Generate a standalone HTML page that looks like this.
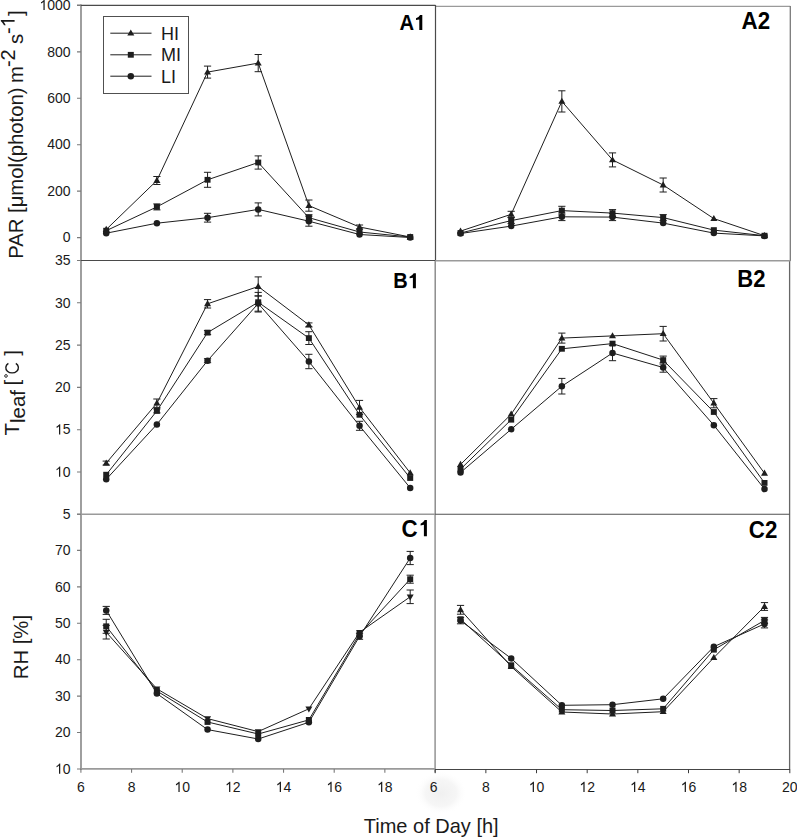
<!DOCTYPE html>
<html><head><meta charset="utf-8"><style>
html,body{margin:0;padding:0;background:#fff;}
body{width:797px;height:837px;overflow:hidden;font-family:"Liberation Sans",sans-serif;}
svg{display:block;}
</style></head><body>
<svg width="797" height="837" viewBox="0 0 797 837">
<rect width="797" height="837" fill="#fff"/>
<defs><radialGradient id="sm"><stop offset="0" stop-color="#f0f0f0"/><stop offset="0.6" stop-color="#f6f6f6"/><stop offset="1" stop-color="#fff" stop-opacity="0"/></radialGradient></defs>
<ellipse cx="441" cy="793" rx="26" ry="22" fill="url(#sm)"/>
<path d="M81 4.6V770" stroke="#8e8e8e" stroke-width="1.7" fill="none"/>
<path d="M77 5.3H435.5" stroke="#4a4a4a" stroke-width="1.2" fill="none"/>
<path d="M435.5 6.4H790.3" stroke="#9a9a9a" stroke-width="1.4" fill="none"/>
<path d="M435.5 5V260.5" stroke="#4a4a4a" stroke-width="1.2" fill="none"/>
<path d="M435.2 260.5V514.3" stroke="#858585" stroke-width="1.4" fill="none"/>
<path d="M435.1 514.3V772.6" stroke="#9a9a9a" stroke-width="1.6" fill="none"/>
<path d="M790.3 6V261" stroke="#7a7a7a" stroke-width="1.3" fill="none"/>
<path d="M789.6 261V770" stroke="#666" stroke-width="1.3" fill="none"/>
<path d="M77 260.5H435.5" stroke="#4a4a4a" stroke-width="1.2" fill="none"/>
<path d="M435.5 260.8H790.3" stroke="#9a9a9a" stroke-width="1.6" fill="none"/>
<path d="M77 514.3H435" stroke="#9a9a9a" stroke-width="1.5" fill="none"/>
<path d="M435 514.3H789.6" stroke="#505050" stroke-width="1.1" fill="none"/>
<path d="M80.2 768.9H435" stroke="#9a9a9a" stroke-width="1.7" fill="none"/>
<path d="M435 769.5H790" stroke="#454545" stroke-width="1.1" fill="none"/>
<path d="M77 237.60H81 M77 191.16H81 M77 144.72H81 M77 98.28H81 M77 51.84H81 M77 5.40H81 M77 514.30H81 M77 472.00H81 M77 429.70H81 M77 387.40H81 M77 345.10H81 M77 302.80H81 M77 260.50H81 M77 769.00H81 M77 732.57H81 M77 696.14H81 M77 659.71H81 M77 623.28H81 M77 586.85H81 M77 550.42H81 M80.90 769V772.8 M131.56 769V772.8 M182.22 769V772.8 M232.88 769V772.8 M283.54 769V772.8 M334.20 769V772.8 M384.86 769V772.8" stroke="#7a7a7a" stroke-width="1.1" fill="none"/>
<path d="M435.20 769.5V773.2 M485.86 769.5V773.2 M536.52 769.5V773.2 M587.18 769.5V773.2 M637.84 769.5V773.2 M688.50 769.5V773.2 M739.16 769.5V773.2 M789.82 769.5V773.2" stroke="#3a3a3a" stroke-width="1" fill="none"/>
<g font-family="Liberation Sans, sans-serif" font-size="14" fill="#1a1a1a"><text transform="translate(70.60 242.30) scale(1 1.055)" text-anchor="end">0</text><text transform="translate(70.60 195.86) scale(1 1.055)" text-anchor="end">200</text><text transform="translate(70.60 149.42) scale(1 1.055)" text-anchor="end">400</text><text transform="translate(70.60 102.98) scale(1 1.055)" text-anchor="end">600</text><text transform="translate(70.60 56.54) scale(1 1.055)" text-anchor="end">800</text><text transform="translate(70.60 10.10) scale(1 1.055)" text-anchor="end"> 000</text><text transform="translate(70.60 519.00) scale(1 1.055)" text-anchor="end">5</text><text transform="translate(70.60 476.70) scale(1 1.055)" text-anchor="end"> 0</text><text transform="translate(70.60 434.40) scale(1 1.055)" text-anchor="end"> 5</text><text transform="translate(70.60 392.10) scale(1 1.055)" text-anchor="end">20</text><text transform="translate(70.60 349.80) scale(1 1.055)" text-anchor="end">25</text><text transform="translate(70.60 307.50) scale(1 1.055)" text-anchor="end">30</text><text transform="translate(70.60 265.20) scale(1 1.055)" text-anchor="end">35</text><text transform="translate(70.60 773.70) scale(1 1.055)" text-anchor="end"> 0</text><text transform="translate(70.60 737.27) scale(1 1.055)" text-anchor="end">20</text><text transform="translate(70.60 700.84) scale(1 1.055)" text-anchor="end">30</text><text transform="translate(70.60 664.41) scale(1 1.055)" text-anchor="end">40</text><text transform="translate(70.60 627.98) scale(1 1.055)" text-anchor="end">50</text><text transform="translate(70.60 591.55) scale(1 1.055)" text-anchor="end">60</text><text transform="translate(70.60 555.12) scale(1 1.055)" text-anchor="end">70</text><text transform="translate(80.90 791.90) scale(1 1.055)" text-anchor="middle">6</text><text transform="translate(131.56 791.90) scale(1 1.055)" text-anchor="middle">8</text><text transform="translate(182.22 791.90) scale(1 1.055)" text-anchor="middle"> 0</text><text transform="translate(232.88 791.90) scale(1 1.055)" text-anchor="middle"> 2</text><text transform="translate(283.54 791.90) scale(1 1.055)" text-anchor="middle"> 4</text><text transform="translate(334.20 791.90) scale(1 1.055)" text-anchor="middle"> 6</text><text transform="translate(384.86 791.90) scale(1 1.055)" text-anchor="middle"> 8</text><text transform="translate(433.70 791.90) scale(1 1.055)" text-anchor="middle">6</text><text transform="translate(485.86 791.90) scale(1 1.055)" text-anchor="middle">8</text><text transform="translate(536.52 791.90) scale(1 1.055)" text-anchor="middle"> 0</text><text transform="translate(587.18 791.90) scale(1 1.055)" text-anchor="middle"> 2</text><text transform="translate(637.84 791.90) scale(1 1.055)" text-anchor="middle"> 4</text><text transform="translate(688.50 791.90) scale(1 1.055)" text-anchor="middle"> 6</text><text transform="translate(739.16 791.90) scale(1 1.055)" text-anchor="middle"> 8</text><text transform="translate(789.82 791.90) scale(1 1.055)" text-anchor="middle">20</text></g>
<g fill="#1a1a1a"><path transform="translate(39.46 10.10) scale(0.00684 -0.00721)" d="M763 0L583 0L583 1127Q518 1065 412 1003Q306 941 222 910L222 1084Q373 1155 486 1256Q599 1357 646 1409L763 1409Z"/><path transform="translate(55.03 476.70) scale(0.00684 -0.00721)" d="M763 0L583 0L583 1127Q518 1065 412 1003Q306 941 222 910L222 1084Q373 1155 486 1256Q599 1357 646 1409L763 1409Z"/><path transform="translate(55.03 434.40) scale(0.00684 -0.00721)" d="M763 0L583 0L583 1127Q518 1065 412 1003Q306 941 222 910L222 1084Q373 1155 486 1256Q599 1357 646 1409L763 1409Z"/><path transform="translate(55.03 773.70) scale(0.00684 -0.00721)" d="M763 0L583 0L583 1127Q518 1065 412 1003Q306 941 222 910L222 1084Q373 1155 486 1256Q599 1357 646 1409L763 1409Z"/><path transform="translate(174.43 791.90) scale(0.00684 -0.00721)" d="M763 0L583 0L583 1127Q518 1065 412 1003Q306 941 222 910L222 1084Q373 1155 486 1256Q599 1357 646 1409L763 1409Z"/><path transform="translate(225.09 791.90) scale(0.00684 -0.00721)" d="M763 0L583 0L583 1127Q518 1065 412 1003Q306 941 222 910L222 1084Q373 1155 486 1256Q599 1357 646 1409L763 1409Z"/><path transform="translate(275.75 791.90) scale(0.00684 -0.00721)" d="M763 0L583 0L583 1127Q518 1065 412 1003Q306 941 222 910L222 1084Q373 1155 486 1256Q599 1357 646 1409L763 1409Z"/><path transform="translate(326.41 791.90) scale(0.00684 -0.00721)" d="M763 0L583 0L583 1127Q518 1065 412 1003Q306 941 222 910L222 1084Q373 1155 486 1256Q599 1357 646 1409L763 1409Z"/><path transform="translate(377.07 791.90) scale(0.00684 -0.00721)" d="M763 0L583 0L583 1127Q518 1065 412 1003Q306 941 222 910L222 1084Q373 1155 486 1256Q599 1357 646 1409L763 1409Z"/><path transform="translate(528.73 791.90) scale(0.00684 -0.00721)" d="M763 0L583 0L583 1127Q518 1065 412 1003Q306 941 222 910L222 1084Q373 1155 486 1256Q599 1357 646 1409L763 1409Z"/><path transform="translate(579.39 791.90) scale(0.00684 -0.00721)" d="M763 0L583 0L583 1127Q518 1065 412 1003Q306 941 222 910L222 1084Q373 1155 486 1256Q599 1357 646 1409L763 1409Z"/><path transform="translate(630.05 791.90) scale(0.00684 -0.00721)" d="M763 0L583 0L583 1127Q518 1065 412 1003Q306 941 222 910L222 1084Q373 1155 486 1256Q599 1357 646 1409L763 1409Z"/><path transform="translate(680.71 791.90) scale(0.00684 -0.00721)" d="M763 0L583 0L583 1127Q518 1065 412 1003Q306 941 222 910L222 1084Q373 1155 486 1256Q599 1357 646 1409L763 1409Z"/><path transform="translate(731.37 791.90) scale(0.00684 -0.00721)" d="M763 0L583 0L583 1127Q518 1065 412 1003Q306 941 222 910L222 1084Q373 1155 486 1256Q599 1357 646 1409L763 1409Z"/></g>
<g fill="none" stroke="#1e1e1e" stroke-width="1"><polyline points="106.23,229.50 156.89,180.50 207.55,72.10 258.21,63.10 308.87,205.60 359.53,227.00 410.19,237.00"/><polyline points="106.23,230.70 156.89,206.90 207.55,179.80 258.21,162.50 308.87,217.70 359.53,232.00 410.19,237.00"/><polyline points="106.23,233.20 156.89,223.20 207.55,217.70 258.21,209.40 308.87,221.20 359.53,234.50 410.19,237.50"/><polyline points="460.53,231.10 511.19,214.30 561.85,101.40 612.51,159.90 663.17,185.00 713.83,218.60 764.49,235.70"/><polyline points="460.53,233.00 511.19,220.60 561.85,210.60 612.51,213.10 663.17,217.60 713.83,230.10 764.49,235.70"/><polyline points="460.53,233.50 511.19,226.10 561.85,216.80 612.51,217.10 663.17,223.10 713.83,233.10 764.49,235.90"/><polyline points="106.23,463.10 156.89,403.20 207.55,303.80 258.21,286.50 308.87,324.90 359.53,407.40 410.19,472.90"/><polyline points="106.23,474.70 156.89,410.90 207.55,332.60 258.21,302.20 308.87,338.10 359.53,414.80 410.19,478.00"/><polyline points="106.23,479.30 156.89,424.40 207.55,360.70 258.21,303.50 308.87,361.50 359.53,425.80 410.19,487.90"/><polyline points="460.53,464.50 511.19,414.20 561.85,338.10 612.51,335.90 663.17,333.70 713.83,403.20 764.49,473.30"/><polyline points="460.53,469.20 511.19,419.70 561.85,348.80 612.51,343.60 663.17,360.10 713.83,412.00 764.49,482.90"/><polyline points="460.53,472.50 511.19,429.30 561.85,386.20 612.51,353.00 663.17,367.50 713.83,425.20 764.49,489.00"/><polyline points="106.23,632.20 156.89,688.80 207.55,718.60 258.21,731.60 308.87,708.80 359.53,632.30 410.19,596.80"/><polyline points="106.23,626.30 156.89,691.00 207.55,722.00 258.21,734.00 308.87,719.90 359.53,634.20 410.19,579.20"/><polyline points="106.23,610.40 156.89,693.60 207.55,729.60 258.21,739.00 308.87,722.30 359.53,636.30 410.19,558.00"/><polyline points="460.53,609.80 511.19,666.60 561.85,712.00 612.51,714.00 663.17,711.70 713.83,657.60 764.49,606.50"/><polyline points="460.53,619.20 511.19,665.20 561.85,709.70 612.51,710.50 663.17,708.80 713.83,649.70 764.49,620.40"/><polyline points="460.53,620.60 511.19,658.40 561.85,705.30 612.51,704.70 663.17,698.80 713.83,646.70 764.49,623.90"/></g>
<path d="M156.89 176.50V184.50M153.29 176.50H160.49M153.29 184.50H160.49 M207.55 66.10V78.10M203.95 66.10H211.15M203.95 78.10H211.15 M258.21 54.50V71.70M254.61 54.50H261.81M254.61 71.70H261.81 M308.87 200.00V211.20M305.27 200.00H312.47M305.27 211.20H312.47 M359.53 225.00V229.00M355.93 225.00H363.13M355.93 229.00H363.13 M156.89 203.90V209.90M153.29 203.90H160.49M153.29 209.90H160.49 M207.55 172.30V187.30M203.95 172.30H211.15M203.95 187.30H211.15 M258.21 155.90V169.10M254.61 155.90H261.81M254.61 169.10H261.81 M308.87 214.70V220.70M305.27 214.70H312.47M305.27 220.70H312.47 M207.55 213.30V222.10M203.95 213.30H211.15M203.95 222.10H211.15 M258.21 202.90V215.90M254.61 202.90H261.81M254.61 215.90H261.81 M308.87 216.20V226.20M305.27 216.20H312.47M305.27 226.20H312.47 M511.19 211.30V217.30M507.59 211.30H514.79M507.59 217.30H514.79 M561.85 90.80V112.00M558.25 90.80H565.45M558.25 112.00H565.45 M612.51 152.90V166.90M608.91 152.90H616.11M608.91 166.90H616.11 M663.17 178.00V192.00M659.57 178.00H666.77M659.57 192.00H666.77 M511.19 217.60V223.60M507.59 217.60H514.79M507.59 223.60H514.79 M561.85 206.30V214.90M558.25 206.30H565.45M558.25 214.90H565.45 M612.51 209.60V216.60M608.91 209.60H616.11M608.91 216.60H616.11 M663.17 214.60V220.60M659.57 214.60H666.77M659.57 220.60H666.77 M561.85 213.00V220.60M558.25 213.00H565.45M558.25 220.60H565.45 M612.51 213.60V220.60M608.91 213.60H616.11M608.91 220.60H616.11 M106.23 461.10V465.10M102.63 461.10H109.83M102.63 465.10H109.83 M156.89 399.00V407.40M153.29 399.00H160.49M153.29 407.40H160.49 M207.55 299.60V308.00M203.95 299.60H211.15M203.95 308.00H211.15 M258.21 276.90V296.10M254.61 276.90H261.81M254.61 296.10H261.81 M308.87 322.90V326.90M305.27 322.90H312.47M305.27 326.90H312.47 M359.53 400.40V414.40M355.93 400.40H363.13M355.93 414.40H363.13 M156.89 408.90V412.90M153.29 408.90H160.49M153.29 412.90H160.49 M207.55 330.60V334.60M203.95 330.60H211.15M203.95 334.60H211.15 M258.21 292.40V312.00M254.61 292.40H261.81M254.61 312.00H261.81 M308.87 331.70V344.50M305.27 331.70H312.47M305.27 344.50H312.47 M207.55 358.70V362.70M203.95 358.70H211.15M203.95 362.70H211.15 M258.21 295.80V311.20M254.61 295.80H261.81M254.61 311.20H261.81 M308.87 354.30V368.70M305.27 354.30H312.47M305.27 368.70H312.47 M359.53 421.30V430.30M355.93 421.30H363.13M355.93 430.30H363.13 M561.85 333.10V343.10M558.25 333.10H565.45M558.25 343.10H565.45 M663.17 326.40V341.00M659.57 326.40H666.77M659.57 341.00H666.77 M713.83 398.60V407.80M710.23 398.60H717.43M710.23 407.80H717.43 M663.17 356.10V364.10M659.57 356.10H666.77M659.57 364.10H666.77 M561.85 378.40V394.00M558.25 378.40H565.45M558.25 394.00H565.45 M612.51 345.30V360.70M608.91 345.30H616.11M608.91 360.70H616.11 M663.17 362.80V372.20M659.57 362.80H666.77M659.57 372.20H666.77 M106.23 625.40V639.00M102.63 625.40H109.83M102.63 639.00H109.83 M410.19 590.00V603.60M406.59 590.00H413.79M406.59 603.60H413.79 M106.23 619.30V633.30M102.63 619.30H109.83M102.63 633.30H109.83 M410.19 575.20V583.20M406.59 575.20H413.79M406.59 583.20H413.79 M106.23 606.40V614.40M102.63 606.40H109.83M102.63 614.40H109.83 M359.53 633.30V639.30M355.93 633.30H363.13M355.93 639.30H363.13 M410.19 551.40V564.60M406.59 551.40H413.79M406.59 564.60H413.79 M460.53 605.40V614.20M456.93 605.40H464.13M456.93 614.20H464.13 M764.49 602.60V610.40M760.89 602.60H768.09M760.89 610.40H768.09 M764.49 617.40V623.40M760.89 617.40H768.09M760.89 623.40H768.09 M460.53 617.40V623.80M456.93 617.40H464.13M456.93 623.80H464.13 M764.49 619.90V627.90M760.89 619.90H768.09M760.89 627.90H768.09" fill="none" stroke="#1e1e1e" stroke-width="1"/>
<g fill="#1e1e1e"><path d="M106.23 225.80L109.73 231.90L102.73 231.90Z"/><path d="M156.89 176.80L160.39 182.90L153.39 182.90Z"/><path d="M207.55 68.40L211.05 74.50L204.05 74.50Z"/><path d="M258.21 59.40L261.71 65.50L254.71 65.50Z"/><path d="M308.87 201.90L312.37 208.00L305.37 208.00Z"/><path d="M359.53 223.30L363.03 229.40L356.03 229.40Z"/><path d="M410.19 233.30L413.69 239.40L406.69 239.40Z"/><rect x="103.23" y="227.80" width="6" height="5.8"/><rect x="153.89" y="204.00" width="6" height="5.8"/><rect x="204.55" y="176.90" width="6" height="5.8"/><rect x="255.21" y="159.60" width="6" height="5.8"/><rect x="305.87" y="214.80" width="6" height="5.8"/><rect x="356.53" y="229.10" width="6" height="5.8"/><rect x="407.19" y="234.10" width="6" height="5.8"/><circle cx="106.23" cy="233.20" r="3.25"/><circle cx="156.89" cy="223.20" r="3.25"/><circle cx="207.55" cy="217.70" r="3.25"/><circle cx="258.21" cy="209.40" r="3.25"/><circle cx="308.87" cy="221.20" r="3.25"/><circle cx="359.53" cy="234.50" r="3.25"/><circle cx="410.19" cy="237.50" r="3.25"/><path d="M460.53 227.40L464.03 233.50L457.03 233.50Z"/><path d="M511.19 210.60L514.69 216.70L507.69 216.70Z"/><path d="M561.85 97.70L565.35 103.80L558.35 103.80Z"/><path d="M612.51 156.20L616.01 162.30L609.01 162.30Z"/><path d="M663.17 181.30L666.67 187.40L659.67 187.40Z"/><path d="M713.83 214.90L717.33 221.00L710.33 221.00Z"/><path d="M764.49 232.00L767.99 238.10L760.99 238.10Z"/><rect x="457.53" y="230.10" width="6" height="5.8"/><rect x="508.19" y="217.70" width="6" height="5.8"/><rect x="558.85" y="207.70" width="6" height="5.8"/><rect x="609.51" y="210.20" width="6" height="5.8"/><rect x="660.17" y="214.70" width="6" height="5.8"/><rect x="710.83" y="227.20" width="6" height="5.8"/><rect x="761.49" y="232.80" width="6" height="5.8"/><circle cx="460.53" cy="233.50" r="3.25"/><circle cx="511.19" cy="226.10" r="3.25"/><circle cx="561.85" cy="216.80" r="3.25"/><circle cx="612.51" cy="217.10" r="3.25"/><circle cx="663.17" cy="223.10" r="3.25"/><circle cx="713.83" cy="233.10" r="3.25"/><circle cx="764.49" cy="235.90" r="3.25"/><path d="M106.23 459.40L109.73 465.50L102.73 465.50Z"/><path d="M156.89 399.50L160.39 405.60L153.39 405.60Z"/><path d="M207.55 300.10L211.05 306.20L204.05 306.20Z"/><path d="M258.21 282.80L261.71 288.90L254.71 288.90Z"/><path d="M308.87 321.20L312.37 327.30L305.37 327.30Z"/><path d="M359.53 403.70L363.03 409.80L356.03 409.80Z"/><path d="M410.19 469.20L413.69 475.30L406.69 475.30Z"/><rect x="103.23" y="471.80" width="6" height="5.8"/><rect x="153.89" y="408.00" width="6" height="5.8"/><rect x="204.55" y="329.70" width="6" height="5.8"/><rect x="255.21" y="299.30" width="6" height="5.8"/><rect x="305.87" y="335.20" width="6" height="5.8"/><rect x="356.53" y="411.90" width="6" height="5.8"/><rect x="407.19" y="475.10" width="6" height="5.8"/><circle cx="106.23" cy="479.30" r="3.25"/><circle cx="156.89" cy="424.40" r="3.25"/><circle cx="207.55" cy="360.70" r="3.25"/><circle cx="258.21" cy="303.50" r="3.25"/><circle cx="308.87" cy="361.50" r="3.25"/><circle cx="359.53" cy="425.80" r="3.25"/><circle cx="410.19" cy="487.90" r="3.25"/><path d="M460.53 460.80L464.03 466.90L457.03 466.90Z"/><path d="M511.19 410.50L514.69 416.60L507.69 416.60Z"/><path d="M561.85 334.40L565.35 340.50L558.35 340.50Z"/><path d="M612.51 332.20L616.01 338.30L609.01 338.30Z"/><path d="M663.17 330.00L666.67 336.10L659.67 336.10Z"/><path d="M713.83 399.50L717.33 405.60L710.33 405.60Z"/><path d="M764.49 469.60L767.99 475.70L760.99 475.70Z"/><rect x="457.53" y="466.30" width="6" height="5.8"/><rect x="508.19" y="416.80" width="6" height="5.8"/><rect x="558.85" y="345.90" width="6" height="5.8"/><rect x="609.51" y="340.70" width="6" height="5.8"/><rect x="660.17" y="357.20" width="6" height="5.8"/><rect x="710.83" y="409.10" width="6" height="5.8"/><rect x="761.49" y="480.00" width="6" height="5.8"/><circle cx="460.53" cy="472.50" r="3.25"/><circle cx="511.19" cy="429.30" r="3.25"/><circle cx="561.85" cy="386.20" r="3.25"/><circle cx="612.51" cy="353.00" r="3.25"/><circle cx="663.17" cy="367.50" r="3.25"/><circle cx="713.83" cy="425.20" r="3.25"/><circle cx="764.49" cy="489.00" r="3.25"/><path d="M106.23 635.90L109.73 629.80L102.73 629.80Z"/><path d="M156.89 692.50L160.39 686.40L153.39 686.40Z"/><path d="M207.55 722.30L211.05 716.20L204.05 716.20Z"/><path d="M258.21 735.30L261.71 729.20L254.71 729.20Z"/><path d="M308.87 712.50L312.37 706.40L305.37 706.40Z"/><path d="M359.53 636.00L363.03 629.90L356.03 629.90Z"/><path d="M410.19 600.50L413.69 594.40L406.69 594.40Z"/><rect x="103.23" y="623.40" width="6" height="5.8"/><rect x="153.89" y="688.10" width="6" height="5.8"/><rect x="204.55" y="719.10" width="6" height="5.8"/><rect x="255.21" y="731.10" width="6" height="5.8"/><rect x="305.87" y="717.00" width="6" height="5.8"/><rect x="356.53" y="631.30" width="6" height="5.8"/><rect x="407.19" y="576.30" width="6" height="5.8"/><circle cx="106.23" cy="610.40" r="3.25"/><circle cx="156.89" cy="693.60" r="3.25"/><circle cx="207.55" cy="729.60" r="3.25"/><circle cx="258.21" cy="739.00" r="3.25"/><circle cx="308.87" cy="722.30" r="3.25"/><circle cx="359.53" cy="636.30" r="3.25"/><circle cx="410.19" cy="558.00" r="3.25"/><path d="M460.53 606.10L464.03 612.20L457.03 612.20Z"/><path d="M511.19 662.90L514.69 669.00L507.69 669.00Z"/><path d="M561.85 708.30L565.35 714.40L558.35 714.40Z"/><path d="M612.51 710.30L616.01 716.40L609.01 716.40Z"/><path d="M663.17 708.00L666.67 714.10L659.67 714.10Z"/><path d="M713.83 653.90L717.33 660.00L710.33 660.00Z"/><path d="M764.49 602.80L767.99 608.90L760.99 608.90Z"/><rect x="457.53" y="616.30" width="6" height="5.8"/><rect x="508.19" y="662.30" width="6" height="5.8"/><rect x="558.85" y="706.80" width="6" height="5.8"/><rect x="609.51" y="707.60" width="6" height="5.8"/><rect x="660.17" y="705.90" width="6" height="5.8"/><rect x="710.83" y="646.80" width="6" height="5.8"/><rect x="761.49" y="617.50" width="6" height="5.8"/><circle cx="460.53" cy="620.60" r="3.25"/><circle cx="511.19" cy="658.40" r="3.25"/><circle cx="561.85" cy="705.30" r="3.25"/><circle cx="612.51" cy="704.70" r="3.25"/><circle cx="663.17" cy="698.80" r="3.25"/><circle cx="713.83" cy="646.70" r="3.25"/><circle cx="764.49" cy="623.90" r="3.25"/></g>
<rect x="103.5" y="16.5" width="85" height="77" fill="#fff" stroke="#505050" stroke-width="1"/>
<path d="M110.3 33.2H151.5" stroke="#1e1e1e" stroke-width="1"/>
<g fill="#1e1e1e"><path d="M130.80 29.50L134.30 35.60L127.30 35.60Z"/></g>
<text x="161" y="39.6" font-size="18" font-family="Liberation Sans, sans-serif" fill="#1a1a1a">HI</text>
<path d="M110.3 54.8H151.5" stroke="#1e1e1e" stroke-width="1"/>
<g fill="#1e1e1e"><rect x="127.80" y="51.90" width="6" height="5.8"/></g>
<text x="161" y="61.2" font-size="18" font-family="Liberation Sans, sans-serif" fill="#1a1a1a">MI</text>
<path d="M110.3 76.2H151.5" stroke="#1e1e1e" stroke-width="1"/>
<g fill="#1e1e1e"><circle cx="130.80" cy="76.20" r="3.25"/></g>
<text x="161" y="82.6" font-size="18" font-family="Liberation Sans, sans-serif" fill="#1a1a1a">LI</text>
<text transform="translate(399.4 29.9) scale(0.92 1)" font-size="22" font-family="Liberation Sans, sans-serif" font-weight="bold" fill="#000">A</text>
<g fill="#000"><path d="M422.30 15.00V29.90H419.30V19.47L416.00 19.99V18.35Q418.70 17.53 420.10 15.00Z"/></g>
<text transform="translate(393.3 288.1) scale(0.91 1)" font-size="22" font-family="Liberation Sans, sans-serif" font-weight="bold" fill="#000">B</text>
<g fill="#000"><path d="M415.90 273.30V288.20H412.90V277.77L409.60 278.29V276.65Q412.30 275.83 413.70 273.30Z"/></g>
<text transform="translate(401.6 536.7) scale(0.95 1)" font-size="23.5" font-family="Liberation Sans, sans-serif" font-weight="bold" fill="#000">C</text>
<g fill="#000"><path d="M426.90 520.00V536.20H423.90V524.86L420.60 525.43V523.65Q423.30 522.75 424.70 520.00Z"/></g>
<text transform="translate(741.6 28.6) scale(0.95 1)" font-size="23.5" font-family="Liberation Sans, sans-serif" font-weight="bold" fill="#000">A2</text>
<text transform="translate(737.3 286.6) scale(0.92 1)" font-size="24" font-family="Liberation Sans, sans-serif" font-weight="bold" fill="#000">B2</text>
<text transform="translate(748.8 538) scale(0.93 1)" font-size="24" font-family="Liberation Sans, sans-serif" font-weight="bold" fill="#000">C2</text>
<text transform="translate(23 258.8) rotate(-90)" font-family="Liberation Sans, sans-serif" font-size="20.3" fill="#1a1a1a"><tspan x="0" y="0">PAR [μmol(photon)</tspan><tspan x="175.7" y="0">m</tspan><tspan x="191.7" y="-8.4" font-size="20">-2</tspan><tspan x="214.7" y="0">s</tspan><tspan x="224.7" y="-8.4" font-size="20">- </tspan><tspan x="242.7" y="0">]</tspan></text>
<text transform="translate(19.1 435.6) rotate(-90)" font-family="Liberation Sans, sans-serif" font-size="20.5" fill="#1a1a1a">T<tspan dy="5.9">leaf</tspan><tspan dy="-5.9" dx="-1.2"> [</tspan></text>
<text transform="translate(19.1 355.8) rotate(-90)" font-family="Liberation Sans, sans-serif" font-size="20.5" fill="#1a1a1a">]</text>
<g transform="translate(23 258.8) rotate(-90)" fill="#1a1a1a"><path transform="translate(231.36 -8.4) scale(0.00977 -0.00977)" d="M763 0L583 0L583 1127Q518 1065 412 1003Q306 941 222 910L222 1084Q373 1155 486 1256Q599 1357 646 1409L763 1409Z"/></g>
<g fill="none" stroke="#1a1a1a"><circle cx="6" cy="375.95" r="1.35" stroke-width="0.9"/><path d="M8.38 363.4A6.3 5.25 0 1 0 15.82 363.4" stroke-width="1.4"/></g>
<text transform="translate(28 679.2) rotate(-90)" font-family="Liberation Sans, sans-serif" font-size="20.3" fill="#1a1a1a">RH [%]</text>
<text transform="translate(363.8 832.7) scale(1 1.05)" font-family="Liberation Sans, sans-serif" font-size="20" fill="#1a1a1a">Time of Day [h]</text>
</svg>
</body></html>
